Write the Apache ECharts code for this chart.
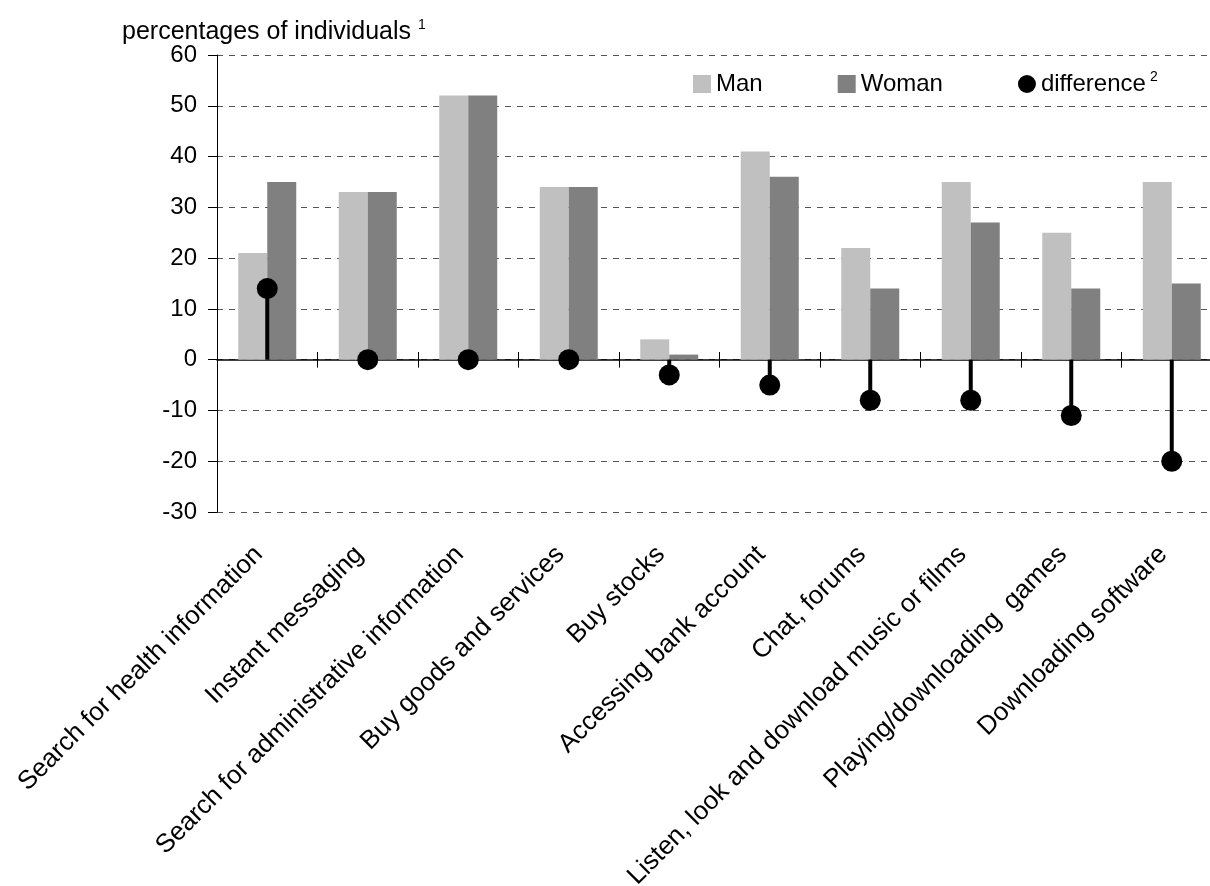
<!DOCTYPE html>
<html>
<head>
<meta charset="utf-8">
<title>Internet use by sex</title>
<script src="https://cdn.jsdelivr.net/npm/echarts@6/dist/echarts.min.js"></script>
<style>
  html, body { margin: 0; padding: 0; background: #fff; }
  #chart { width: 1210px; height: 886px; }
</style>
</head>
<body>
<div id="chart"></div>
<script>
// data
var categories = [
    'Search for health information',
    'Instant messaging',
    'Search for administrative information',
    'Buy goods and services',
    'Buy stocks',
    'Accessing bank account',
    'Chat, forums',
    'Listen, look and download music or films',
    'Playing/downloading  games',
    'Downloading software'
];
var manValues = [21, 33, 52, 34, 4, 41, 22, 35, 25, 35];
var womanValues = [35, 33, 52, 34, 1, 36, 14, 27, 14, 15];
var diffValues = [14, 0, 0, 0, -3, -5, -8, -8, -11, -20];
var yMin = -30, yMax = 60, yStep = 10;

var FONT = 'Liberation Sans, Arial, sans-serif';

var myChart = echarts.init(document.getElementById('chart'));
var option = {
    backgroundColor: '#fff',
    animation: false,
    textStyle: { fontFamily: FONT, color: '#000' },
    title: {
        left: 117,
        top: 13,
        text: '{t|percentages of individuals} {s|1}',
        textStyle: {
            fontWeight: 'normal',
            rich: {
                t: { fontFamily: FONT, fontSize: 25, fontWeight: 'normal', color: '#000' },
                s: { fontFamily: FONT, fontSize: 14, fontWeight: 'normal', color: '#000', verticalAlign: 'top', padding: [0, 0, 14, 2] }
            }
        }
    },
    legend: {
        left: 688,
        top: 65,
        itemWidth: 18,
        itemHeight: 18,
        itemGap: 75,
        data: [
            { name: 'Man', icon: 'rect' },
            { name: 'Woman', icon: 'rect' },
            { name: 'difference', icon: 'circle' }
        ],
        formatter: function (name) {
            return name === 'difference' ? '{n|difference}{s|2}' : '{n|' + name + '}';
        },
        textStyle: {
            rich: {
                n: { fontFamily: FONT, fontSize: 24, color: '#000' },
                s: { fontFamily: FONT, fontSize: 14, color: '#000', verticalAlign: 'top', padding: [0, 0, 14, 4] }
            }
        }
    },
    grid: {
        left: 217,
        right: -12,
        top: 55,
        bottom: 374,
        containLabel: false,
        outerBoundsMode: 'none'
    },
    xAxis: [
        {
            // labels only, at the bottom of the plot
            type: 'category',
            data: categories,
            position: 'bottom',
            axisLine: { show: false, onZero: false },
            axisTick: { show: false },
            axisLabel: {
                rotate: 45,
                interval: 0,
                margin: 30,
                padding: [0, 12, 0, 0],
                fontFamily: FONT,
                fontSize: 26,
                color: '#000'
            },
            splitLine: { show: false }
        },
        {
            // zero line with ticks going down
            type: 'category',
            data: categories,
            position: 'bottom',
            axisLine: { show: true, onZero: true, lineStyle: { color: '#000', width: 1.5 } },
            axisTick: { show: true, interval: 0, length: 8, lineStyle: { color: '#000' } },
            axisLabel: { show: false },
            splitLine: { show: false }
        },
        {
            // upward half of the ticks on the zero line (shifted up from the bottom edge to y = 0)
            type: 'category',
            data: categories,
            position: 'bottom',
            offset: -152,
            axisLine: { show: false, onZero: false },
            axisTick: { show: true, inside: true, interval: 0, length: 8, lineStyle: { color: '#000' } },
            axisLabel: { show: false },
            splitLine: { show: false }
        }
    ],
    yAxis: {
        type: 'value',
        min: yMin,
        max: yMax,
        interval: yStep,
        axisLine: { show: true, lineStyle: { color: '#000' } },
        axisTick: { show: true, length: 9, lineStyle: { color: '#000' } },
        axisLabel: { fontFamily: FONT, fontSize: 24, color: '#000', margin: 20 },
        splitLine: { show: true, lineStyle: { color: '#555', type: [6, 6], width: 1 } }
    },
    series: [
        {
            name: 'Man',
            type: 'bar',
            xAxisIndex: 0,
            barWidth: 29,
            barGap: '0%',
            itemStyle: { color: '#c0c0c0' },
            data: manValues
        },
        {
            name: 'Woman',
            type: 'bar',
            xAxisIndex: 0,
            barWidth: 29,
            barGap: '0%',
            itemStyle: { color: '#808080' },
            data: womanValues
        },
        {
            name: 'stem',
            type: 'bar',
            xAxisIndex: 1,
            barWidth: 4,
            z: 5,
            itemStyle: { color: '#000' },
            data: diffValues
        },
        {
            name: 'difference',
            type: 'scatter',
            xAxisIndex: 1,
            symbol: 'circle',
            symbolSize: 21,
            z: 6,
            itemStyle: { color: '#000', opacity: 1 },
            data: diffValues
        }
    ]
};
myChart.setOption(option);
</script>
</body>
</html>
